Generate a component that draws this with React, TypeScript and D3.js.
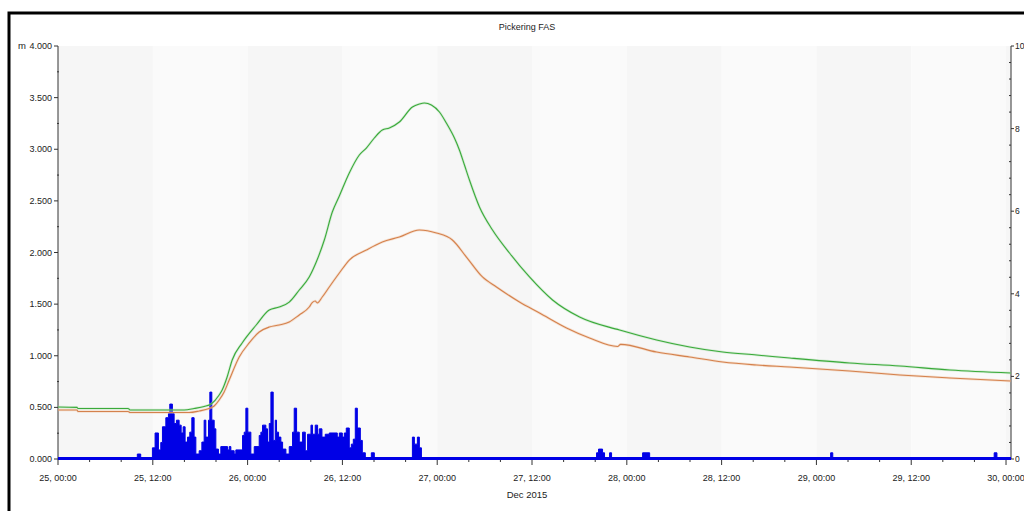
import React from 'react';
import * as d3 from 'd3';

// Hours since 25 Dec 00:00
const greenHours = [0, 2.4, 2.53, 8.87, 9.12, 15.97, 17.23, 18.5, 19.39, 20.4, 20.78, 21.41, 22.05, 23.31, 25.09, 26.74, 28.0, 29.27, 30.54, 31.8, 32.69, 33.71, 34.72, 35.61, 36.87, 38.14, 39.03, 40.04, 41.05, 41.94, 43.21, 44.86, 45.74, 46.38, 47.26, 48.28, 49.16, 50.18, 50.81, 51.45, 52.08, 53.35, 55.0, 57.15, 59.68, 62.6, 66.02, 71.09, 75.77, 79.95, 84.14, 88.44, 92.62, 100.2, 106.56, 112.9, 120.6];
const greenLevel = [0.504, 0.5, 0.489, 0.489, 0.475, 0.475, 0.489, 0.508, 0.533, 0.62, 0.668, 0.794, 0.959, 1.124, 1.298, 1.443, 1.472, 1.52, 1.637, 1.763, 1.908, 2.121, 2.392, 2.547, 2.77, 2.944, 3.012, 3.109, 3.186, 3.206, 3.264, 3.409, 3.438, 3.448, 3.429, 3.361, 3.254, 3.109, 2.993, 2.847, 2.702, 2.441, 2.218, 1.995, 1.763, 1.54, 1.375, 1.249, 1.153, 1.085, 1.036, 1.007, 0.978, 0.93, 0.9, 0.862, 0.833];

const orangeHours = [0, 2.4, 2.53, 8.87, 9.12, 16.6, 17.87, 19.13, 19.77, 20.4, 21.03, 21.67, 22.94, 24.2, 25.47, 26.74, 28.0, 29.27, 30.54, 31.8, 32.18, 32.56, 32.82, 33.45, 34.34, 35.61, 36.87, 39.03, 41.05, 43.21, 45.74, 47.9, 49.92, 51.7, 53.73, 55.5, 58.41, 60.95, 64.37, 67.28, 70.84, 71.22, 75.77, 79.95, 84.14, 88.44, 92.62, 100.2, 106.56, 112.9, 120.6];
const orangeLevel = [0.475, 0.475, 0.46, 0.46, 0.45, 0.45, 0.465, 0.489, 0.513, 0.571, 0.649, 0.765, 0.988, 1.124, 1.23, 1.278, 1.298, 1.327, 1.395, 1.472, 1.515, 1.53, 1.512, 1.569, 1.666, 1.801, 1.927, 2.024, 2.102, 2.15, 2.218, 2.189, 2.121, 1.956, 1.763, 1.666, 1.521, 1.414, 1.269, 1.172, 1.09, 1.11, 1.036, 0.988, 0.939, 0.91, 0.891, 0.852, 0.814, 0.785, 0.755];

const rainHours = [0, 10.04, 10.47, 11.95, 12.29, 12.71, 13.01, 13.22, 13.65, 13.98, 14.15, 14.48, 14.7, 14.99, 15.33, 15.59, 15.84, 16.09, 16.39, 16.68, 16.94, 17.23, 17.45, 17.87, 18.21, 18.5, 18.71, 19.05, 19.22, 19.47, 19.77, 19.98, 20.31, 20.61, 21.46, 21.67, 21.88, 22.3, 22.51, 23.36, 23.57, 23.78, 24.03, 24.41, 24.84, 25.47, 25.68, 25.89, 26.31, 26.52, 26.74, 26.95, 27.24, 27.5, 27.66, 27.92, 28.21, 28.43, 28.85, 29.27, 29.69, 29.9, 30.2, 30.54, 30.96, 31.3, 31.59, 32.02, 32.22, 32.56, 32.86, 33.07, 33.41, 33.83, 34.34, 35.35, 35.61, 35.99, 36.24, 36.49, 36.87, 37.13, 37.38, 37.63, 37.89, 38.27, 38.52, 38.9, 39.66, 40.04, 44.86, 45.11, 45.49, 45.74, 46.0, 68.17, 68.42, 68.93, 69.18, 69.82, 70.07, 74.0, 74.89, 97.8, 98.07, 118.5, 118.85, 120.63];
const rainValues = [0, 0.12, 0, 0.27, 0.63, 0.22, 0.4, 0.78, 1.0, 1.1, 1.33, 1.1, 0.86, 0.94, 0.82, 0.63, 0.78, 0.41, 0.53, 0.65, 1.0, 0.53, 0.12, 0.2, 0.41, 0.94, 0.53, 0.94, 1.62, 0.94, 0.73, 0.24, 0.12, 0.3, 0.22, 0.3, 0.2, 0.12, 0.22, 0.57, 0.65, 1.23, 0.65, 0.12, 0.3, 0.57, 0.65, 0.82, 0.73, 0.41, 0.86, 1.62, 0.45, 0.94, 0.65, 0.53, 0.41, 0.24, 0.12, 0.3, 0.65, 1.23, 0.65, 0.41, 0.65, 0.2, 0.6, 0.82, 0.6, 0.82, 0.6, 0.73, 0.53, 0.6, 0.63, 0.53, 0.63, 0.53, 0.63, 0.75, 0.27, 0.36, 0.48, 1.23, 0.75, 0.45, 0.15, 0, 0.15, 0, 0.53, 0.36, 0.53, 0.27, 0, 0.15, 0.24, 0.15, 0, 0.15, 0, 0.15, 0, 0.15, 0, 0.15, 0, 0];

const xTickHours = [0, 12, 24, 36, 48, 60, 72, 84, 96, 108, 120];
const xTickLabels = ['25, 00:00', '25, 12:00', '26, 00:00', '26, 12:00', '27, 00:00', '27, 12:00', '28, 00:00', '28, 12:00', '29, 00:00', '29, 12:00', '30, 00:00'];
const leftTicks = [0, 0.5, 1, 1.5, 2, 2.5, 3, 3.5, 4];
const rightTicks = [0, 2, 4, 6, 8, 10];

const FONT = '"Liberation Sans", Arial, sans-serif';

export default function App() {
  const L = 58, R = 1011, T = 46, B = 459;
  const x = d3.scaleLinear().domain([0, 120.63]).range([L, R]);
  const yL = d3.scaleLinear().domain([0, 4]).range([B, T]);
  const yR = d3.scaleLinear().domain([0, 10]).range([B, T]);

  const lineG = d3.line<number>().x((_, i) => x(greenHours[i])).y(d => yL(d)).curve(d3.curveMonotoneX);
  const lineO = d3.line<number>().x((_, i) => x(orangeHours[i])).y(d => yL(d)).curve(d3.curveMonotoneX);
  const rainArea = d3.area<number>()
    .x((_, i) => x(rainHours[i]))
    .y0(yR(0))
    .y1(d => yR(d))
    .curve(d3.curveStepAfter);

  const bands: number[] = d3.range(0, 120, 12);
  const minorX = d3.range(0, 121, 4).filter(h => h % 12 !== 0);
  const minorL = d3.range(0.25, 4, 0.5);
  const minorR = d3.range(0, 10.01, 0.4).filter(v => Math.abs(v / 2 - Math.round(v / 2)) > 0.01);

  return (
    <svg width={1024} height={511} style={{ position: 'absolute', left: 0, top: 0, background: '#fff' }} fontFamily={FONT}>
      <defs>
        <clipPath id="plot">
          <rect x={L} y={T} width={R - L} height={B - T + 2} />
        </clipPath>
      </defs>
      {/* frame */}
      <rect x={9} y={13} width={1030} height={520} fill="none" stroke="#000" strokeWidth={3} />
      {/* background bands */}
      {bands.map(h => (
        <rect key={h} x={x(h)} y={T} width={Math.min(x(h + 12), R) - x(h)} height={B - T}
          fill={h % 24 === 0 ? '#f6f6f6' : '#fafafa'} />
      ))}
      <rect x={x(120)} y={T} width={R - x(120)} height={B - T} fill="#f6f6f6" />
      {/* title */}
      <text x={527} y={30} fontSize={9} textAnchor="middle" fill="#222">Pickering FAS</text>
      <text x={18} y={49} fontSize={9.5} fill="#222">m</text>
      {/* left axis */}
      <line x1={L} x2={L} y1={T} y2={B} stroke="#333" strokeWidth={1} />
      {leftTicks.map(v => (
        <g key={v}>
          <line x1={L - 4} x2={L} y1={yL(v)} y2={yL(v)} stroke="#333" />
          <text x={L - 6} y={yL(v) + 3} fontSize={9} textAnchor="end" fill="#222">{v.toFixed(3)}</text>
        </g>
      ))}
      {minorL.map(v => (
        <line key={v} x1={L - 1} x2={L + 1} y1={yL(v)} y2={yL(v)} stroke="#333" />
      ))}
      {/* right axis */}
      <line x1={R} x2={R} y1={T} y2={B} stroke="#333" strokeWidth={1} />
      {rightTicks.map(v => (
        <g key={v}>
          <line x1={R} x2={R + 3} y1={yR(v)} y2={yR(v)} stroke="#333" />
          <text x={R + 4} y={yR(v) + 3} fontSize={8.5} fill="#222">{v}</text>
        </g>
      ))}
      {minorR.map(v => (
        <line key={v} x1={R - 2} x2={R} y1={yR(v)} y2={yR(v)} stroke="#333" />
      ))}
      {/* x axis */}
      <line x1={L} x2={R} y1={B} y2={B} stroke="#333" />
      {xTickHours.map((h, i) => (
        <g key={h}>
          <line x1={x(h)} x2={x(h)} y1={B} y2={B + 6} stroke="#333" />
          <text x={x(h)} y={481} fontSize={9} textAnchor="middle" fill="#222">{xTickLabels[i]}</text>
        </g>
      ))}
      {minorX.map(h => (
        <line key={h} x1={x(h)} x2={x(h)} y1={B} y2={B + 3} stroke="#333" />
      ))}
      <text x={527} y={498} fontSize={9.5} textAnchor="middle" fill="#222">Dec 2015</text>
      {/* data */}
      <g clipPath="url(#plot)">
        <path d={rainArea(rainValues) || ''} fill="#0000e6" stroke="#0000e6" strokeWidth={1} />
        <line x1={L} x2={R} y1={B - 0.5} y2={B - 0.5} stroke="#0000e6" strokeWidth={3} />
        <path d={lineO(orangeLevel) || ''} fill="none" stroke="#f2c8a8" strokeWidth={2.6} opacity={0.5} />
        <path d={lineO(orangeLevel) || ''} fill="none" stroke="#d4814d" strokeWidth={1.1} />
        <path d={lineG(greenLevel) || ''} fill="none" stroke="#b8e0b8" strokeWidth={2.6} opacity={0.5} />
        <path d={lineG(greenLevel) || ''} fill="none" stroke="#3aaa3a" strokeWidth={1.1} />
      </g>
    </svg>
  );
}
